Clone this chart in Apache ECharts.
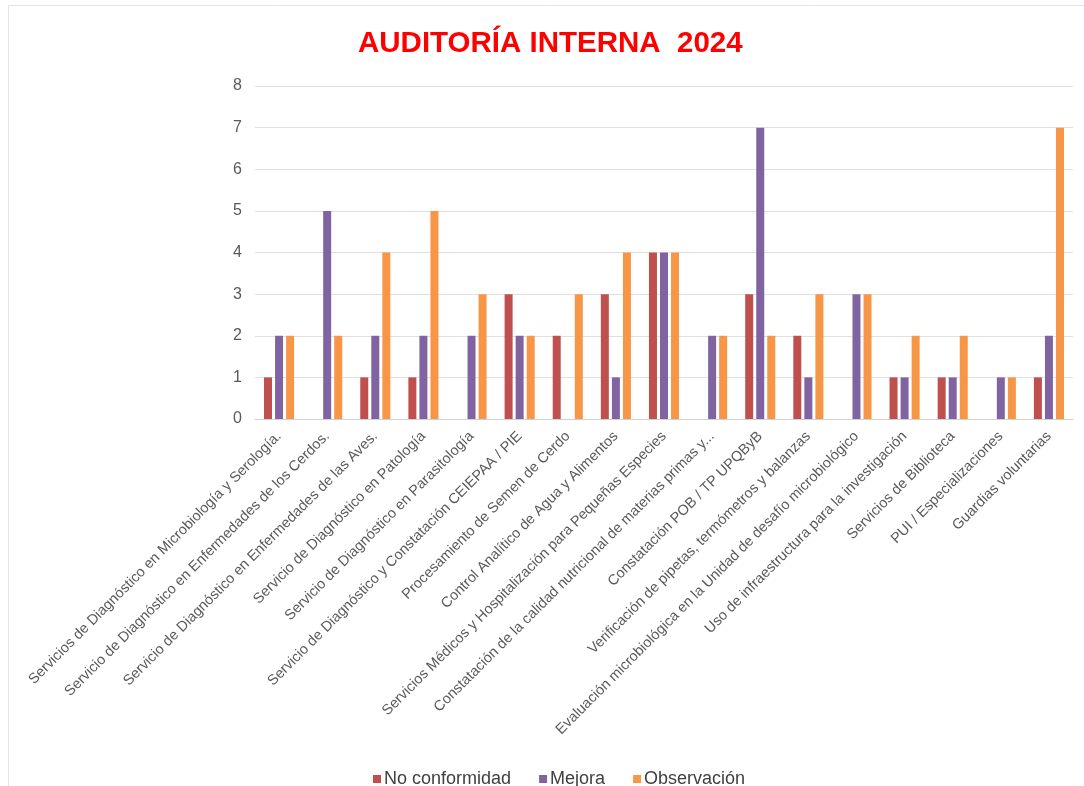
<!DOCTYPE html>
<html>
<head>
<meta charset="utf-8">
<script src="https://cdn.jsdelivr.net/npm/echarts@6/dist/echarts.min.js"></script>
<style>
  html, body { margin: 0; padding: 0; background: #fff; }
  #chart { width: 1084px; height: 786px; }
</style>
</head>
<body>
<div id="chart"></div>
<script>
  const categories = [
    'Servicios de Diagnóstico en Microbiología y Serología.',
    'Servicio de Diagnóstico en Enfermedades de los Cerdos.',
    'Servicio de Diagnóstico en Enfermedades de las Aves.',
    'Servicio de Diagnóstico en Patología',
    'Servicio de Diagnóstico en Parasitología',
    'Servicio de Diagnóstico y Constatación CEIEPAA / PIE',
    'Procesamiento de Semen de Cerdo',
    'Control Analítico de Agua y Alimentos',
    'Servicios Médicos y Hospitalización para Pequeñas Especies',
    'Constatación de la calidad nutricional de materias primas y...',
    'Constatación POB / TP UPQByB',
    'Verificación de pipetas, termómetros y balanzas',
    'Evaluación microbiológica en la Unidad de desafío microbiológico',
    'Uso de infraestructura para la investigación',
    'Servicios de Biblioteca',
    'PUI / Especializaciones',
    'Guardias voluntarias'
  ];
  const noConformidad = [1, 0, 1, 1, 0, 3, 2, 3, 4, 0, 3, 2, 0, 1, 1, 0, 1];
  const mejora        = [2, 5, 2, 2, 2, 2, 0, 1, 4, 2, 7, 1, 3, 1, 1, 1, 2];
  const observacion   = [2, 2, 4, 5, 3, 2, 3, 4, 4, 2, 2, 3, 3, 2, 2, 1, 7];
  const yTicks = [0, 8, 1];  // min, max, interval

  const chart = echarts.init(document.getElementById('chart'));

  // empty categories in the original show no bar at all
  const hideZero = (arr) => arr.map((v) => (v === 0 ? null : v));

  chart.setOption({
    animation: false,
    textStyle: { fontFamily: 'Liberation Sans, Arial, sans-serif' },
    graphic: [{
      type: 'rect',
      silent: true,
      shape: { x: 8.5, y: 5.5, width: 1100, height: 800 },
      style: { fill: 'none', stroke: '#e4e4e4', lineWidth: 1 }
    }],
    title: {
      text: 'AUDITORÍA INTERNA  2024',
      left: 353,
      top: 24,
      textStyle: { color: '#ff0000', fontSize: 29.5, fontWeight: 'bold', fontFamily: 'Liberation Sans, Arial, sans-serif' }
    },
    legend: {
      top: 765,
      left: 368,
      itemWidth: 8,
      itemHeight: 8,
      itemGap: 28,
      icon: 'rect',
      textStyle: { color: '#404040', fontSize: 18, padding: [0, 0, 0, -2] },
      data: ['No conformidad', 'Mejora', 'Observación']
    },
    grid: { left: 255, right: 11, top: 86, bottom: 367 },
    xAxis: {
      type: 'category',
      data: categories,
      axisLine: { lineStyle: { color: '#d0d0d0' } },
      axisTick: { show: false },
      axisLabel: {
        interval: 0,
        rotate: 45,
        color: '#595959',
        fontSize: 14.5,
        margin: 15
      }
    },
    yAxis: {
      type: 'value',
      min: yTicks[0],
      max: yTicks[1],
      interval: yTicks[2],
      axisLine: { show: false },
      axisTick: { show: false },
      axisLabel: { color: '#595959', fontSize: 16, margin: 13 },
      splitLine: { lineStyle: { color: '#e0e0e0' } }
    },
    series: [
      { name: 'No conformidad', type: 'bar', data: hideZero(noConformidad), barWidth: 8, barGap: '38%', itemStyle: { color: '#c0504d' } },
      { name: 'Mejora', type: 'bar', data: hideZero(mejora), barWidth: 8, barGap: '38%', itemStyle: { color: '#8064a2' } },
      { name: 'Observación', type: 'bar', data: hideZero(observacion), barWidth: 8, barGap: '38%', itemStyle: { color: '#f79646' } }
    ]
  });
</script>
</body>
</html>
